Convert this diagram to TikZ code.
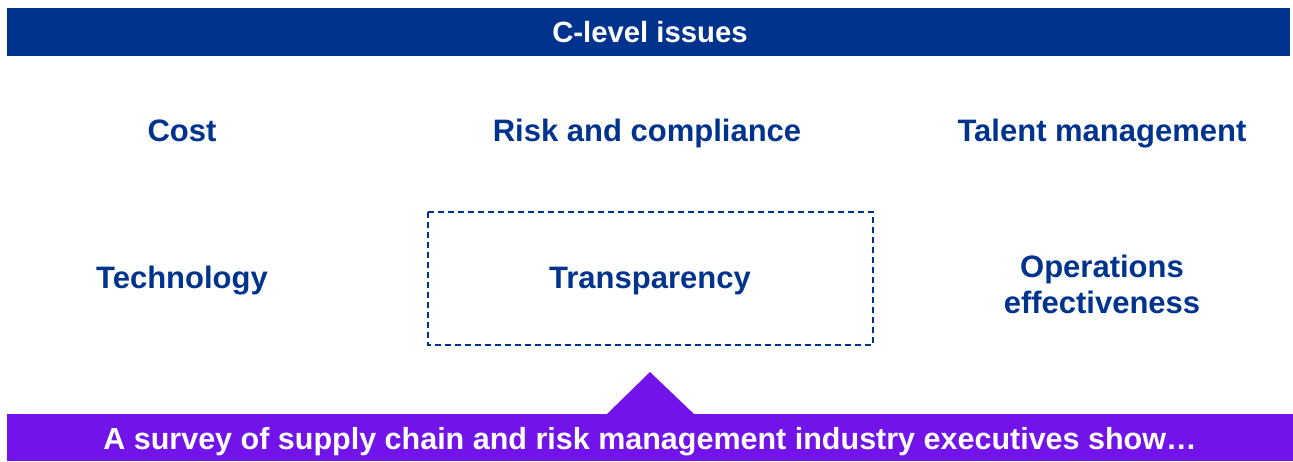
\documentclass[tikz,border=0pt]{standalone}
\usepackage{fontspec}
\setmainfont{Liberation Sans}
\definecolor{kblue}{HTML}{00338D}
\definecolor{kpurple}{HTML}{7213EA}
\begin{document}
\begin{tikzpicture}[x=1pt,y=-1pt,
  lbl/.style={text=kblue,font=\bfseries\fontsize{31}{36}\selectfont,align=center,inner sep=0pt,anchor=base},
  wlbl/.style={text=white,inner sep=0pt,anchor=base}]
\useasboundingbox (0,0) rectangle (1293,461);
\fill[kblue] (7,8) rectangle (1290,56);
\node[wlbl,font=\bfseries\fontsize{29.3}{32}\selectfont] (hdr) at (650,42.5) {C-level issues};
\node[lbl] (cost) at (182,141) {Cost};
\node[lbl] (risk) at (647,141) {Risk and compliance};
\node[lbl] (talent) at (1102,141) {Talent management};
\node[lbl] (tech) at (182,288) {Technology};
\draw[kblue,line width=2pt,dash pattern=on 6pt off 4pt] (428,212) rectangle (873,345);
\node[lbl] (trans) at (650,288) {Transparency};
\node[lbl] (ops) at (1102,313) {Operations\\effectiveness};
\fill[kpurple] (7,414) rectangle (1293,461);
\fill[kpurple] (606,415) -- (650,372) -- (695,415) -- cycle;
\node[wlbl,font=\bfseries\fontsize{30.5}{32}\selectfont] (survey) at (650,449.5) {A survey of supply chain and risk management industry executives show…};
\end{tikzpicture}
\end{document}
